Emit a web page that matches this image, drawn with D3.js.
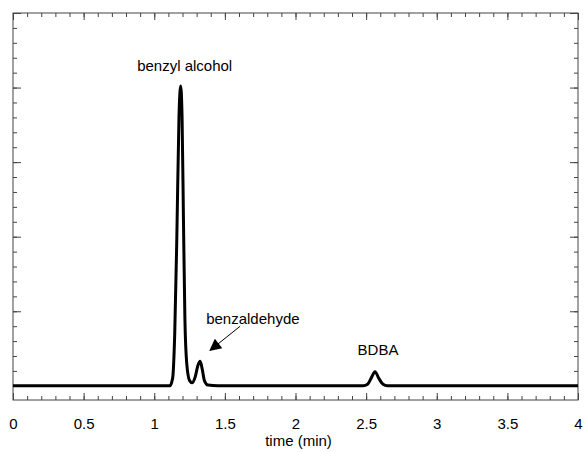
<!DOCTYPE html>
<html>
<head>
<meta charset="utf-8">
<script src="https://cdn.jsdelivr.net/npm/d3@7"></script>
<style>
  body { margin: 0; background: #fff; }
  text { font-family: "Liberation Sans", Arial, sans-serif; fill: #000; }
</style>
</head>
<body>
<div id="chart"></div>
<script>
// chromatogram trace (time in min, detector signal)
const times = [0, 0.5, 1.0, 1.11, 1.13, 1.145, 1.16, 1.175, 1.187, 1.197, 1.207, 1.217,
  1.23, 1.25, 1.27, 1.29, 1.31, 1.325, 1.34, 1.355, 1.38, 1.45, 2.0, 2.48, 2.51, 2.535,
  2.563, 2.59, 2.62, 2.65, 3.0, 3.5, 4.0];
const signal = [0, 0, 0, 0, 0.1, 0.7, 2.0, 3.6, 4.02, 3.6, 2.2, 0.9,
  0.3, 0.07, 0.04, 0.12, 0.28, 0.33, 0.22, 0.07, 0.01, 0, 0, 0, 0.02, 0.1,
  0.19, 0.1, 0.02, 0, 0, 0, 0];
const xTickLabels = [0, 0.5, 1, 1.5, 2, 2.5, 3, 3.5, 4];
const peakLabels = ["benzyl alcohol", "benzaldehyde", "BDBA"];
const peakTimes = [1.187, 1.325, 2.563];
const peakHeights = [4.02, 0.33, 0.19];

const width = 586, height = 452;
const margin = {top: 13, right: 8, bottom: 52, left: 13};
const fontSize = "15px";

const svg = d3.select("#chart").append("svg")
  .attr("width", width)
  .attr("height", height);

const x = d3.scaleLinear().domain([0, 4]).range([margin.left, width - margin.right]);
const y = d3.scaleLinear().domain([-0.19, 5]).range([height - margin.bottom, margin.top]);

const axisColor = "#444";
const minorX = d3.range(0, 41).map(d => d / 10);
const minorY = d3.range(0, 26).map(d => d / 5);
const majorY = [0, 1, 2, 3, 4, 5];

function styleAxis(g) {
  g.select(".domain").remove();
  g.selectAll("line").attr("stroke", axisColor).attr("stroke-width", 1);
}

// inside ticks on all four sides
svg.append("g").attr("transform", `translate(0,${y.range()[0]})`)
  .call(d3.axisBottom(x).tickValues(minorX).tickSize(-4).tickFormat(""))
  .call(styleAxis);
svg.append("g").attr("transform", `translate(0,${y.range()[0]})`)
  .call(d3.axisBottom(x).tickValues(xTickLabels).tickSize(-7).tickFormat(""))
  .call(styleAxis);
svg.append("g").attr("transform", `translate(0,${y.range()[1]})`)
  .call(d3.axisTop(x).tickValues(minorX).tickSize(-4).tickFormat(""))
  .call(styleAxis);
svg.append("g").attr("transform", `translate(0,${y.range()[1]})`)
  .call(d3.axisTop(x).tickValues(xTickLabels).tickSize(-7).tickFormat(""))
  .call(styleAxis);
svg.append("g").attr("transform", `translate(${x.range()[0]},0)`)
  .call(d3.axisLeft(y).tickValues(minorY).tickSize(-4).tickFormat(""))
  .call(styleAxis);
svg.append("g").attr("transform", `translate(${x.range()[0]},0)`)
  .call(d3.axisLeft(y).tickValues(majorY).tickSize(-8).tickFormat(""))
  .call(styleAxis);
svg.append("g").attr("transform", `translate(${x.range()[1]},0)`)
  .call(d3.axisRight(y).tickValues(minorY).tickSize(-4).tickFormat(""))
  .call(styleAxis);
svg.append("g").attr("transform", `translate(${x.range()[1]},0)`)
  .call(d3.axisRight(y).tickValues(majorY).tickSize(-8).tickFormat(""))
  .call(styleAxis);

// tick labels
svg.append("g").attr("transform", `translate(0,${y.range()[0]})`)
  .call(d3.axisBottom(x).tickValues(xTickLabels).tickSize(0).tickPadding(18)
    .tickFormat(d3.format("")))
  .call(g => g.select(".domain").remove())
  .call(g => g.selectAll("text").style("font-size", fontSize)
    .style("font-family", "'Liberation Sans', Arial, sans-serif").attr("fill", "#000"));

// frame
svg.append("rect")
  .attr("x", x.range()[0]).attr("y", y.range()[1])
  .attr("width", x.range()[1] - x.range()[0])
  .attr("height", y.range()[0] - y.range()[1])
  .attr("fill", "none").attr("stroke", axisColor).attr("stroke-width", 1);

svg.append("text")
  .attr("x", (x.range()[0] + x.range()[1]) / 2 + 3)
  .attr("y", height - 6)
  .attr("text-anchor", "middle")
  .style("font-size", fontSize)
  .text("time (min)");

// the trace
const points = times.map((t, i) => [t, signal[i]]);
const line = d3.line()
  .x(d => x(d[0]))
  .y(d => y(d[1]))
  .curve(d3.curveMonotoneX);

svg.append("path")
  .datum(points)
  .attr("fill", "none")
  .attr("stroke", "#000")
  .attr("stroke-width", 3)
  .attr("stroke-linejoin", "round")
  .attr("d", line);

// peak labels
svg.append("text")
  .attr("x", x(peakTimes[0]) + 4).attr("y", y(peakHeights[0]) - 15)
  .attr("text-anchor", "middle").style("font-size", fontSize)
  .text(peakLabels[0]);

svg.append("text")
  .attr("x", x(peakTimes[1]) + 6).attr("y", y(peakHeights[1]) - 37)
  .attr("text-anchor", "start").style("font-size", fontSize)
  .text(peakLabels[1]);

svg.append("text")
  .attr("x", x(peakTimes[2]) + 3).attr("y", y(peakHeights[2]) - 17)
  .attr("text-anchor", "middle").style("font-size", fontSize)
  .text(peakLabels[2]);

// arrow pointing to benzaldehyde
svg.append("defs").append("marker")
  .attr("id", "head")
  .attr("viewBox", "0 0 10 10")
  .attr("refX", 9).attr("refY", 5)
  .attr("markerWidth", 15).attr("markerHeight", 12)
  .attr("markerUnits", "userSpaceOnUse")
  .attr("orient", "auto")
  .append("path").attr("d", "M0,0L10,5L0,10Z").attr("fill", "#000");

const ax0 = x(peakTimes[1]) + 40, ay0 = y(peakHeights[1]) - 35;
svg.append("line")
  .attr("x1", ax0).attr("y1", ay0)
  .attr("x2", ax0 - 30).attr("y2", ay0 + 24)
  .attr("stroke", "#000").attr("stroke-width", 1)
  .attr("marker-end", "url(#head)");
</script>
</body>
</html>
